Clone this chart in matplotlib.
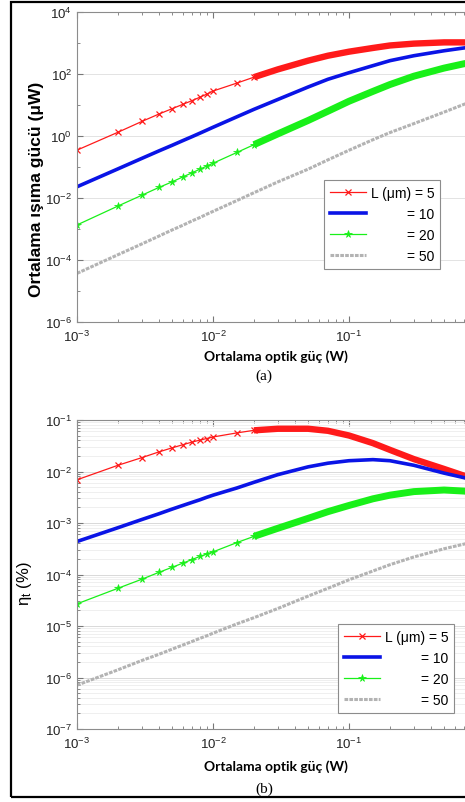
import matplotlib
matplotlib.use("Agg")
import matplotlib.pyplot as plt
from matplotlib.patches import Rectangle
from matplotlib.ticker import LogLocator, FixedLocator, NullFormatter

plt.rcParams["font.family"] = ["Liberation Sans", "DejaVu Sans"]
plt.rcParams["mathtext.fontset"] = "custom"
plt.rcParams["mathtext.rm"] = "Liberation Sans"
plt.rcParams["mathtext.it"] = "Liberation Sans:italic"

# optik güç (W)
P_OPT = [0.001, 0.002, 0.003, 0.004, 0.005, 0.006, 0.007, 0.008, 0.009, 0.01,
         0.015, 0.02, 0.03, 0.05, 0.07, 0.1, 0.15, 0.2, 0.3, 0.5, 0.7, 1.0]
LABELS = ["L (\u03bcm) = 5", "= 10", "= 20", "= 50"]

# (a) ortalama ışıma gücü (µW)
RAD_L5 = [0.35, 1.32, 2.95, 5.1, 7.6, 10.5, 13.8, 17.8, 22.4, 28.2,
          51, 79, 141, 269, 389, 525, 692, 832, 955, 1047, 1047, 1000]
RAD_L10 = [0.023, 0.087, 0.19, 0.33, 0.50, 0.71, 0.95, 1.23, 1.55, 1.91,
           4.17, 7.24, 15.1, 38.0, 67.6, 110, 186, 269, 389, 562, 692, 832]
RAD_L20 = [0.00135, 0.0055, 0.0123, 0.0219, 0.0331, 0.0479, 0.0646, 0.0851, 0.107, 0.132,
           0.295, 0.525, 1.17, 3.16, 6.3, 13.2, 27.5, 45.7, 85.1, 155, 214, 282]
RAD_L50 = [3.7e-5, 1.48e-4, 3.3e-4, 5.9e-4, 9.3e-4, 1.32e-3, 1.82e-3, 2.34e-3, 3.0e-3, 3.7e-3,
           8.3e-3, 0.0148, 0.0331, 0.085, 0.17, 0.347, 0.76, 1.29, 2.51, 5.9, 10.5, 17.8]

# (b) verim eta_t (%)
EFF_L5 = [0.0069, 0.0132, 0.0186, 0.024, 0.0288, 0.0331, 0.0372, 0.0407, 0.0437, 0.0468,
          0.0562, 0.063, 0.0676, 0.0676, 0.0617, 0.050, 0.0355, 0.0263, 0.0174, 0.0112, 0.0083, 0.0062]
EFF_L10 = [4.37e-4, 8.1e-4, 1.17e-3, 1.51e-3, 1.86e-3, 2.19e-3, 2.51e-3, 2.82e-3, 3.16e-3, 3.47e-3,
           4.79e-3, 6.17e-3, 8.7e-3, 0.0123, 0.0145, 0.0162, 0.0170, 0.0162, 0.0132, 0.0093, 0.0076, 0.0060]
EFF_L20 = [2.69e-5, 5.4e-5, 8.1e-5, 1.10e-4, 1.38e-4, 1.66e-4, 1.95e-4, 2.24e-4, 2.51e-4, 2.75e-4,
           4.17e-4, 5.5e-4, 7.9e-4, 1.23e-3, 1.66e-3, 2.19e-3, 2.95e-3, 3.47e-3, 4.07e-3, 4.37e-3, 4.17e-3, 3.8e-3]
EFF_L50 = [7.1e-7, 1.41e-6, 2.14e-6, 2.82e-6, 3.55e-6, 4.27e-6, 5.0e-6, 5.75e-6, 6.46e-6, 7.24e-6,
           1.10e-5, 1.45e-5, 2.19e-5, 3.8e-5, 5.4e-5, 7.9e-5, 1.17e-4, 1.55e-4, 2.19e-4, 3.16e-4, 3.89e-4, 4.79e-4]

W, H = 465, 803
AX_LEFT, AX_RIGHT = 77, 485
BAND = 11  # markers merge into a thick band from here on


def px_box(top, bottom):
    return [AX_LEFT / W, 1 - bottom / H, (AX_RIGHT - AX_LEFT) / W, (bottom - top) / H]


def draw_curves(ax, l5, l10, l20, l50):
    ax.plot(P_OPT, l5, color="#ff1a1a", lw=0.9, marker="x", ms=4, mew=0.9,
            markevery=slice(0, BAND + 1), label=LABELS[0])
    ax.plot(P_OPT[BAND:], l5[BAND:], color="#ff1a1a", lw=4.6, solid_capstyle="butt")
    ax.plot(P_OPT, l10, color="#0a14e6", lw=2.6, label=LABELS[1])
    ax.plot(P_OPT, l20, color="#19f019", lw=0.9, marker="*", ms=5.5, mew=0.5,
            markevery=slice(0, BAND + 1), label=LABELS[2])
    ax.plot(P_OPT[BAND:], l20[BAND:], color="#19f019", lw=5.0, solid_capstyle="butt")
    ax.plot(P_OPT, l50, color="#b3b3b3", lw=2.2, ls=(0, (1.2, 0.4)), label=LABELS[3])


def style_axes(ax):
    ax.set_xscale("log")
    ax.set_yscale("log")
    ax.set_xlim(1e-3, 1)
    # the 10^0 label sits outside the cropped picture
    ax.xaxis.set_major_locator(FixedLocator([1e-3, 1e-2, 1e-1]))
    ax.xaxis.set_minor_locator(LogLocator(base=10, subs=range(2, 10)))
    ax.xaxis.set_minor_formatter(NullFormatter())
    ax.tick_params(which="both", direction="in", top=True, right=True,
                   color="#777777", labelsize=9.5, labelcolor="#222222")
    ax.tick_params(which="major", length=4)
    ax.tick_params(which="minor", length=2.5)
    ax.tick_params(axis="x", pad=5)
    for s in ax.spines.values():
        s.set_color("#8c8c8c")
        s.set_linewidth(0.8)


def add_legend(fig, ax, anchor):
    leg = ax.legend(loc="upper left", bbox_to_anchor=anchor, fontsize=10,
                    frameon=True, fancybox=False, framealpha=1, edgecolor="#8c8c8c",
                    borderaxespad=0, borderpad=0.45, handlelength=2.6,
                    handletextpad=0.3, labelspacing=0.5)
    leg.get_frame().set_linewidth(0.8)
    # right-align the labels like the original
    r = fig.canvas.get_renderer()
    widths = [t.get_window_extent(r).width for t in leg.get_texts()]
    for t, w in zip(leg.get_texts(), widths):
        t.set_position((max(widths) - w, 0))
    return leg


fig = plt.figure(figsize=(W / 100, H / 100), dpi=100)

# (a)
ax1 = fig.add_axes(px_box(13, 323))
draw_curves(ax1, RAD_L5, RAD_L10, RAD_L20, RAD_L50)
style_axes(ax1)
ax1.set_ylim(1e-6, 1e4)
ax1.yaxis.set_major_locator(FixedLocator([1e-6, 1e-4, 1e-2, 1e0, 1e2, 1e4]))
ax1.yaxis.set_minor_locator(FixedLocator([1e-5, 1e-3, 1e-1, 1e1, 1e3]))
ax1.yaxis.set_minor_formatter(NullFormatter())
ax1.yaxis.grid(True, which="major", color="#e3e3e3", lw=0.7)
ax1.set_axisbelow(True)

# (b)
ax2 = fig.add_axes(px_box(421, 730))
draw_curves(ax2, EFF_L5, EFF_L10, EFF_L20, EFF_L50)
style_axes(ax2)
ax2.set_ylim(1e-7, 1e-1)
ax2.yaxis.set_major_locator(LogLocator(base=10, numticks=10))
ax2.yaxis.set_minor_locator(LogLocator(base=10, subs=range(2, 10), numticks=20))
ax2.yaxis.set_minor_formatter(NullFormatter())
ax2.yaxis.grid(True, which="major", color="#d9d9d9", lw=0.7)
ax2.yaxis.grid(True, which="minor", color="#ececec", lw=0.6)
ax2.set_axisbelow(True)

fig.canvas.draw()
add_legend(fig, ax1, ((324 - AX_LEFT) / (AX_RIGHT - AX_LEFT), (323 - 181) / 310))
add_legend(fig, ax2, ((338 - AX_LEFT) / (AX_RIGHT - AX_LEFT), (730 - 625) / 309))

# labels
fig.text(36 / W, 1 - 189 / H, "Ortalama ışıma gücü (\u03bcW)", rotation=90,
         ha="center", va="center", fontsize=12.5, fontweight="bold")
fig.text(24 / W, 1 - 584 / H, r"$\mathrm{\eta_t}$ (%)", rotation=90,
         ha="center", va="center", fontsize=12)
for yc in (357, 767):
    fig.text(276 / W, 1 - yc / H, "Ortalama optik güç (W)", ha="center", va="center",
             fontsize=10, fontweight="bold", family=["Lato", "DejaVu Sans"])
fig.text(264 / W, 1 - 376 / H, "(a)", ha="center", va="center", fontsize=11,
         family=["Liberation Serif", "DejaVu Serif"])
fig.text(264 / W, 1 - 789 / H, "(b)", ha="center", va="center", fontsize=11,
         family=["Liberation Serif", "DejaVu Serif"])

# outer frame
fig.patches.append(Rectangle((10.5 / W, 1 - 798 / H), 1.0, 795 / H, transform=fig.transFigure,
                             fill=False, ec="black", lw=1.6))

fig.savefig("out.png", dpi=100)
